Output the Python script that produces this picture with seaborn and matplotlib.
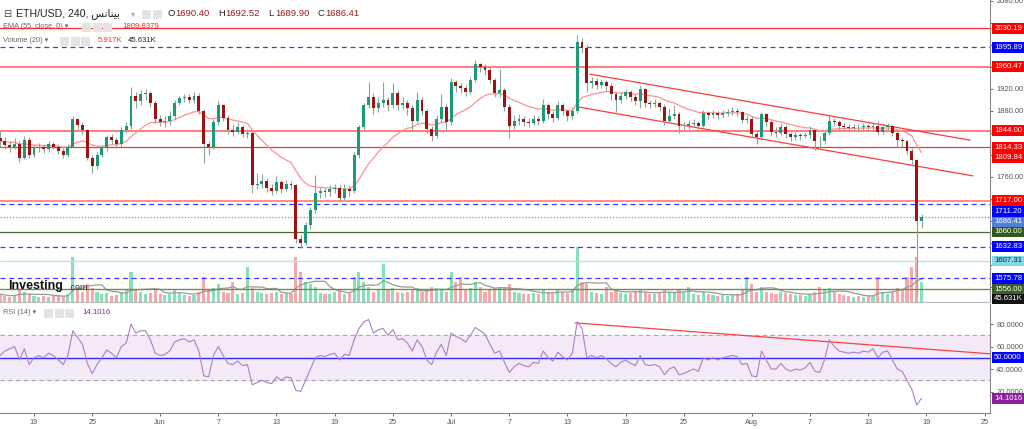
import numpy as np
import pandas as pd
import matplotlib
matplotlib.use("Agg")
import matplotlib.pyplot as plt
import seaborn as sns
from matplotlib.patches import Rectangle

# ---------------- data (12h candles, time in days from 19 May) ----------------
t_start = -3.5
t_step = 0.5
first_open = 1830.0
closes = [
    1825, 1818, 1815, 1820, 1795, 1828, 1800,
    1812, 1815, 1810, 1820, 1815, 1808, 1800, 1815,
    1865, 1855, 1845, 1795, 1780, 1800, 1812, 1832,
    1828, 1820, 1845, 1852, 1908, 1898, 1910, 1912,
    1895, 1865, 1860, 1862, 1870, 1895, 1903, 1905,
    1900, 1908, 1880, 1820, 1815, 1860, 1890, 1868,
    1845, 1842, 1850, 1838, 1840, 1745, 1748, 1752,
    1740, 1735, 1750, 1738, 1748, 1745, 1648, 1640,
    1672, 1700, 1730, 1735, 1732, 1738, 1740, 1722,
    1738, 1735, 1800, 1850, 1890, 1905, 1885, 1895,
    1900, 1890, 1912, 1890, 1895, 1885, 1862, 1900,
    1880, 1848, 1835, 1865, 1888, 1860, 1932, 1925,
    1922, 1915, 1936, 1965, 1960, 1955, 1936, 1912,
    1918, 1888, 1852, 1862, 1866, 1860, 1858, 1866,
    1862, 1890, 1875, 1868, 1890, 1880, 1870, 1880,
    2005, 1995, 1930, 1935, 1928, 1932, 1925, 1910,
    1900, 1908, 1914, 1905, 1898, 1920, 1895, 1893,
    1895, 1888, 1862, 1870, 1875, 1852, 1852, 1856,
    1858, 1852, 1876, 1872, 1876, 1872, 1876, 1878,
    1880, 1878, 1864, 1866, 1838, 1832, 1874, 1860,
    1842, 1840, 1850, 1838, 1832, 1836, 1834, 1836,
    1845, 1826, 1825, 1840, 1862, 1860, 1852, 1850,
    1849, 1851, 1850, 1852, 1850, 1852, 1842, 1850,
    1852, 1840, 1828, 1825, 1808, 1790, 1680, 1686.41,
]
highs = [
    1845, 1832, 1825, 1830, 1825, 1835, 1832,
    1818, 1822, 1820, 1826, 1824, 1818, 1812, 1820,
    1870, 1868, 1860, 1848, 1800, 1805, 1818, 1836,
    1838, 1832, 1850, 1860, 1924, 1915, 1918, 1920,
    1916, 1898, 1872, 1870, 1880, 1900, 1908, 1910,
    1910, 1915, 1912, 1884, 1825, 1865, 1898, 1892,
    1872, 1856, 1860, 1855, 1848, 1844, 1767, 1765,
    1758, 1748, 1762, 1755, 1755, 1752, 1748, 1655,
    1678, 1706, 1764, 1742, 1740, 1746, 1748, 1745,
    1748, 1745, 1805, 1855, 1895, 1933, 1912, 1905,
    1933, 1906, 1930, 1918, 1905, 1900, 1890, 1915,
    1905, 1884, 1852, 1872, 1910, 1892, 1940, 1936,
    1930, 1928, 1942, 1973, 1968, 1965, 1960, 1940,
    1957, 1922, 1892, 1872, 1874, 1870, 1868, 1872,
    1870, 1902, 1894, 1880, 1898, 1894, 1884, 1888,
    2018, 2012, 2002, 1942, 1940, 1938, 1936, 1930,
    1915, 1914, 1920, 1918, 1910, 1928, 1922, 1900,
    1902, 1898, 1892, 1885, 1890, 1878, 1860, 1864,
    1866, 1862, 1882, 1880, 1882, 1880, 1882, 1884,
    1888, 1886, 1880, 1872, 1870, 1845, 1878, 1876,
    1864, 1850, 1858, 1854, 1842, 1842, 1840, 1842,
    1852, 1848, 1834, 1846, 1872, 1868, 1864, 1858,
    1856, 1857, 1856, 1858, 1856, 1860, 1862, 1858,
    1858, 1855, 1844, 1832, 1828, 1812, 1792, 1692.52,
]
lows = [
    1815, 1810, 1805, 1810, 1788, 1792, 1795,
    1796, 1805, 1804, 1806, 1810, 1802, 1795, 1796,
    1812, 1848, 1838, 1790, 1768, 1775, 1796, 1808,
    1820, 1812, 1816, 1840, 1848, 1885, 1890, 1900,
    1888, 1858, 1852, 1850, 1855, 1865, 1890, 1896,
    1894, 1895, 1875, 1785, 1800, 1810, 1855, 1862,
    1838, 1835, 1838, 1832, 1830, 1730, 1738, 1740,
    1733, 1728, 1730, 1730, 1735, 1738, 1640, 1630,
    1636, 1665, 1695, 1722, 1724, 1726, 1730, 1715,
    1718, 1725, 1730, 1795, 1845, 1885, 1875, 1878,
    1888, 1880, 1885, 1882, 1884, 1872, 1845, 1858,
    1872, 1840, 1826, 1830, 1860, 1845, 1855, 1915,
    1912, 1908, 1910, 1932, 1950, 1945, 1930, 1905,
    1905, 1880, 1830, 1848, 1855, 1852, 1850, 1854,
    1855, 1858, 1866, 1860, 1864, 1872, 1862, 1865,
    1876, 1985, 1915, 1922, 1920, 1922, 1916, 1900,
    1879, 1895, 1902, 1898, 1890, 1885, 1888, 1886,
    1888, 1880, 1855, 1858, 1865, 1840, 1845, 1848,
    1850, 1845, 1850, 1866, 1868, 1865, 1868, 1870,
    1872, 1870, 1858, 1858, 1832, 1820, 1828, 1852,
    1835, 1832, 1836, 1830, 1826, 1828, 1828, 1830,
    1830, 1809, 1815, 1820, 1836, 1852, 1846, 1845,
    1844, 1845, 1845, 1846, 1845, 1846, 1836, 1838,
    1845, 1835, 1812, 1815, 1802, 1780, 1545, 1668,
]
volumes_k = [
    40, 30, 25, 35, 60, 50, 40,
    30, 25, 30, 25, 30, 35, 30, 40,
    225, 75, 50, 90, 70, 50, 40, 45,
    30, 35, 50, 60, 150, 60, 50, 40,
    45, 60, 40, 35, 40, 60, 45, 35,
    30, 35, 50, 125, 60, 70, 90, 50,
    45, 100, 40, 45, 175, 70, 50, 45,
    40, 45, 50, 40, 45, 40, 225, 150,
    100, 90, 75, 45, 40, 40, 50, 60,
    40, 45, 125, 150, 100, 75, 50, 60,
    190, 60, 70, 50, 45, 50, 60, 70,
    50, 60, 75, 70, 60, 50, 150, 100,
    125, 60, 70, 100, 75, 50, 60, 70,
    75, 70, 90, 50, 45, 40, 40, 45,
    40, 60, 50, 45, 60, 50, 45, 60,
    275, 100, 90, 50, 45, 40, 75, 50,
    60, 45, 40, 45, 50, 60, 50, 40,
    40, 45, 60, 50, 45, 60, 50, 75,
    40, 35, 50, 40, 35, 30, 35, 30,
    35, 40, 60, 125, 90, 50, 75, 50,
    45, 40, 50, 45, 40, 35, 35, 30,
    40, 50, 75, 60, 70, 50, 40, 35,
    30, 25, 30, 25, 30, 35, 125, 50,
    40, 50, 70, 60, 125, 175, 225, 100,
]
rsi_values = [
    52, 56, 58, 60, 48, 58, 44,
    50, 52, 50, 54, 52, 48, 44, 52,
    74, 68, 62, 45, 36, 44, 50, 57,
    54, 50, 60, 63, 80, 72, 74, 74,
    66, 54, 52, 53, 56, 64, 66, 67,
    64, 66, 56, 34, 33, 52, 60, 52,
    45, 44, 47, 43, 44, 26, 28, 30,
    28, 27, 33, 30, 33, 32, 21, 20,
    30, 40, 50, 52, 51, 53, 54, 48,
    53, 52, 66, 76, 82, 84, 72, 75,
    76, 70, 75, 66, 67, 63, 56, 66,
    60, 48, 44, 55, 62, 52, 72, 69,
    67, 64, 70, 77, 74, 71, 62, 54,
    56, 46, 37, 42, 45, 43, 42, 46,
    45, 56, 50, 47, 55, 51, 48, 54,
    82, 76, 50, 52, 50, 52, 49, 45,
    42, 46, 48, 45, 43, 52, 44, 43,
    44, 42, 35, 40, 42, 35, 36, 38,
    40, 38, 50, 48, 50, 48, 50, 51,
    52, 51, 44, 45, 34, 33, 56, 48,
    40, 40, 45, 40, 38, 40, 39, 41,
    46, 38, 37, 48, 66, 60, 56, 55,
    54, 55, 54, 56, 55, 58, 50, 55,
    56, 48, 40, 38, 30, 22, 8, 14.1016,
]
tick_days = [0, 6, 13, 19, 25, 31, 37, 43, 49, 55, 61, 67, 74, 80, 86, 92, 98]
tick_labels = ["19", "25", "Jun", "7", "13", "19", "25", "Jul", "7", "13", "19", "25",
               "Aug", "7", "13", "19", "25"]
price_ticks = [1560, 1600, 1640, 1680, 1720, 1760, 1800, 1840, 1880, 1920, 1960, 2000,
               2040, 2080]
price_ticks_shown = [1760, 1880, 1920, 2080]   # the others sit under the price tags
rsi_ticks = [20, 40, 60, 80]
level_values = [2030.19, 1995.89, 1960.47, 1844.00, 1814.33, 1717.00, 1711.20,
                1686.41, 1660.00, 1632.83, 1607.31, 1575.78, 1556.00]
ema_last = 1809.84
channel_upper = ([57.3, 96.5], [1947, 1827])
channel_lower = ([56.2, 96.8], [1887, 1762])
rsi_trend = ([55.8, 98.6], [81, 53.5])
ohlc_legend = [("O", "1690.40"), ("H", "1692.52"), ("L", "1689.90"), ("C", "1686.41")]

# ---------------- styles ----------------
level_styles = [
    ("#ff2a2a", "-", 0.9), ("#3a3aff", (0, (4, 3)), 0.9), ("#ff7a7a", "-", 1.4),
    ("#ff7a7a", "-", 1.4), ("#ff3030", "-", 0.9), ("#ff8a8a", "-", 1.4),
    ("#3a3aff", (0, (4, 3)), 0.9), ("#6b8cff", (0, (1, 1.5)), 0.9),
    ("#4a6b2a", "-", 0.9), ("#3a3aff", (0, (4, 3)), 0.9), ("#b5e3ee", "-", 1.0),
    ("#3a3aff", (0, (4, 3)), 0.9), ("#6f8f4f", "-", 1.0),
]
tag_styles = [  # bg, fg, pixel offset
    ("#ff0000", "white", 0), ("#0000ff", "white", 0), ("#ff0000", "white", 0),
    ("#ff0000", "white", 0), ("#ff0000", "white", 0), ("#ff0000", "white", 0),
    ("#0000ff", "white", -8), ("#4f7fd8", "white", -4.5), ("#2f5a1a", "white", 0),
    ("#0000ff", "white", 0), ("#80d8e8", "#222222", 0), ("#0000ff", "white", 0),
    ("#3a5f25", "white", 0),
]

sns.set_theme(style="white")
plt.rcParams["font.family"] = ["Liberation Sans", "DejaVu Sans"]

W, H = 1024, 429
fig = plt.figure(figsize=(W / 100, H / 100), dpi=100)
fig.patch.set_facecolor("white")
ax = fig.add_axes([0, 1 - 302 / H, 990 / W, 302 / H])
axr = fig.add_axes([0, 1 - 413 / H, 990 / W, 109 / H], sharex=ax)
axv = ax.twinx()

t = t_start + t_step * np.arange(len(closes))
c = np.array(closes, float)
o = np.concatenate([[first_open], c[:-1]])
h = np.array(highs, float)
l = np.array(lows, float)
up = c >= o

# volume (behind)
vol = np.array(volumes_k, float)
axv.bar(t, vol, width=0.32, color=np.where(up, "#86e0b8", "#f7a9a9"), linewidth=0)
vol_ma = pd.Series(vol).rolling(7, min_periods=1).mean()
sns.lineplot(x=t, y=vol_ma.values, ax=axv, color="#9a9a9a", linewidth=0.9)
axv.set_ylim(0, 1510)
axv.set_yticks([])
axv.set_ylabel("")
for s in axv.spines.values():
    s.set_visible(False)
ax.set_zorder(axv.get_zorder() + 1)
ax.patch.set_visible(False)

# levels
for v, (col, ls, lw) in zip(level_values, level_styles):
    ax.axhline(v, color=col, ls=ls, lw=lw, zorder=1)

# channel
ax.plot(*channel_upper, color="#ff3b3b", lw=0.9, zorder=2)
ax.plot(*channel_lower, color="#ff3b3b", lw=0.9, zorder=2)

# EMA 55 (4h) ~ span 18 on 12h candles
ema = pd.Series(c).ewm(span=18, adjust=False).mean()
sns.lineplot(x=t, y=ema.values, ax=ax, color="#ff9090", linewidth=0.9, zorder=3)

# candles
ax.vlines(t, l, h, color="#8aa89a", lw=0.8, zorder=4)
body_bottom = np.minimum(o, c)
body_h = np.maximum(np.abs(c - o), 0.8)
ax.bar(t, body_h, bottom=body_bottom, width=0.3,
       color=np.where(up, "#1c9a78", "#9e1212"), linewidth=0, zorder=5)

ax.set_xlim(-3.505, 98.56)
ax.set_ylim(1532.7, 2081.8)
ax.yaxis.tick_right()
ax.set_yticks(price_ticks)
ax.set_yticklabels([f"{v:.2f}" if v in price_ticks_shown else "" for v in price_ticks])
ax.tick_params(axis="y", labelsize=5.4, colors="#555555", length=2.5, width=0.6, pad=2,
               right=True, direction="out")
ax.tick_params(axis="x", bottom=False, labelbottom=False)
for k in ["top", "left"]:
    ax.spines[k].set_visible(False)
ax.spines["right"].set_color("#888888")
ax.spines["right"].set_linewidth(0.8)
ax.spines["bottom"].set_color("#bbbbbb")
ax.spines["bottom"].set_linewidth(0.8)
ax.set_ylabel("")

# price tags
for v, (bg, fg, dy) in zip(level_values, tag_styles):
    ax.annotate(f"{v:.2f}", xy=(1, v), xycoords=("axes fraction", "data"),
                xytext=(3, dy * 0.72), textcoords="offset points", va="center", ha="left",
                fontsize=5.6, color=fg, annotation_clip=False, zorder=20,
                bbox=dict(boxstyle="square,pad=0.25", fc=bg, ec="none"))
ax.annotate(f"{ema_last:.2f}", xy=(1, ema_last), xycoords=("axes fraction", "data"),
            xytext=(3, -7.5 * 0.72), textcoords="offset points", va="center", ha="left",
            fontsize=5.6, color="white", annotation_clip=False, zorder=20,
            bbox=dict(boxstyle="square,pad=0.25", fc="#ff0000", ec="none"))
ax.annotate("45.631K", xy=(1, 0.01), xycoords="axes fraction",
            xytext=(3, 0), textcoords="offset points", va="center", ha="left",
            fontsize=5.6, color="white", annotation_clip=False, zorder=20,
            bbox=dict(boxstyle="square,pad=0.25", fc="#111111", ec="none"))

# ---------------- RSI panel ----------------
axr.axhspan(30, 70, color="#f4e9f7", zorder=0)
axr.axhline(70, color="#a8a8a8", ls=(0, (4, 3)), lw=0.8)
axr.axhline(30, color="#a8a8a8", ls=(0, (4, 3)), lw=0.8)
axr.axhline(50, color="#2d2dff", lw=1.0)
axr.plot(*rsi_trend, color="#ff4040", lw=0.9)
sns.lineplot(x=t, y=np.array(rsi_values, float), ax=axr, color="#b07cc8", linewidth=0.8)
axr.set_ylim(0.9, 97.8)
axr.yaxis.tick_right()
axr.set_yticks(rsi_ticks)
axr.set_yticklabels([f"{v:.4f}" for v in rsi_ticks])
axr.tick_params(axis="y", labelsize=5.4, colors="#555555", length=2.5, width=0.6, pad=2,
                right=True, direction="out")
axr.set_xticks(tick_days)
axr.set_xticklabels(tick_labels)
axr.tick_params(axis="x", labelsize=5.2, colors="#555555", length=2, width=0.6, pad=2,
                bottom=True, direction="out")
axr.spines["top"].set_visible(False)
axr.spines["left"].set_visible(False)
axr.spines["right"].set_color("#888888")
axr.spines["bottom"].set_color("#888888")
axr.spines["right"].set_linewidth(0.8)
axr.spines["bottom"].set_linewidth(0.8)
axr.set_ylabel("")
axr.set_xlabel("")
for v, bg in [(50, "#0000ff"), (rsi_values[-1], "#8e1f9e")]:
    axr.annotate(f"{v:.4f}", xy=(1, v), xycoords=("axes fraction", "data"),
                 xytext=(3, 0), textcoords="offset points", va="center", ha="left",
                 fontsize=5.6, color="white", annotation_clip=False, zorder=20,
                 bbox=dict(boxstyle="square,pad=0.25", fc=bg, ec="none"))

# ---------------- header texts ----------------
def fx(x):
    return x / W


def fy(y):
    return 1 - y / H


def icons(x0, y, n):
    for i in range(n):
        fig.patches.append(Rectangle((fx(x0 + i * 10.5), fy(y + 4.5)), 9 / W, 9 / H,
                                     transform=fig.transFigure, fc="#e4e4e4", ec="none",
                                     zorder=5))


arabic = "\uFEB2\uFEE7\uFE8E\uFEE8\uFEF4\uFE91"  # بينانس shaped for LTR rendering
fig.text(fx(3), fy(14), "\u229f", fontsize=7, color="#444444", va="center",
         family=["DejaVu Sans"])
fig.text(fx(16), fy(14), "ETH/USD, 240, " + arabic, fontsize=7.6, color="#222222",
         va="center", family=["Liberation Sans", "DejaVu Sans"])
fig.text(fx(131), fy(14), "\u25be", fontsize=6, color="#aaaaaa", va="center",
         family=["DejaVu Sans"])
icons(142, 14, 2)
xpos = 168
for lab, val in ohlc_legend:
    fig.text(fx(xpos), fy(14), lab, fontsize=6.8, color="#222222", va="center")
    fig.text(fx(xpos + 7), fy(14), val, fontsize=6.8, color="#9a1a1a", va="center")
    xpos += 50

fig.text(fx(3), fy(27), "EMA (55, close, 0) \u25be", fontsize=5.3, color="#666666",
         va="center", family=["Liberation Sans", "DejaVu Sans"])
icons(82, 27, 3)
fig.text(fx(122), fy(27), "1809.8379", fontsize=5.6, color="#ff2020", va="center")

fig.text(fx(3), fy(41), "Volume (20) \u25be", fontsize=5.3, color="#666666",
         va="center", family=["Liberation Sans", "DejaVu Sans"])
icons(60, 41, 3)
fig.text(fx(98), fy(41), "5.917K", fontsize=5.6, color="#ff3030", va="center")
fig.text(fx(128), fy(41), "45.631K", fontsize=5.6, color="#222222", va="center")

fig.text(fx(8), fy(286), "Investing", fontsize=9, weight="bold", color="#111111",
         va="center")
fig.text(fx(68), fy(288), ".com", fontsize=6.5, color="#333333", va="center")

fig.text(fx(3), fy(313), "RSI (14) \u25be", fontsize=5.3, color="#666666", va="center",
         family=["Liberation Sans", "DejaVu Sans"])
icons(44, 313, 3)
fig.text(fx(82), fy(313), "14.1016", fontsize=5.6, color="#8e1f9e", va="center")

fig.savefig("out.png", dpi=100, facecolor="white")
